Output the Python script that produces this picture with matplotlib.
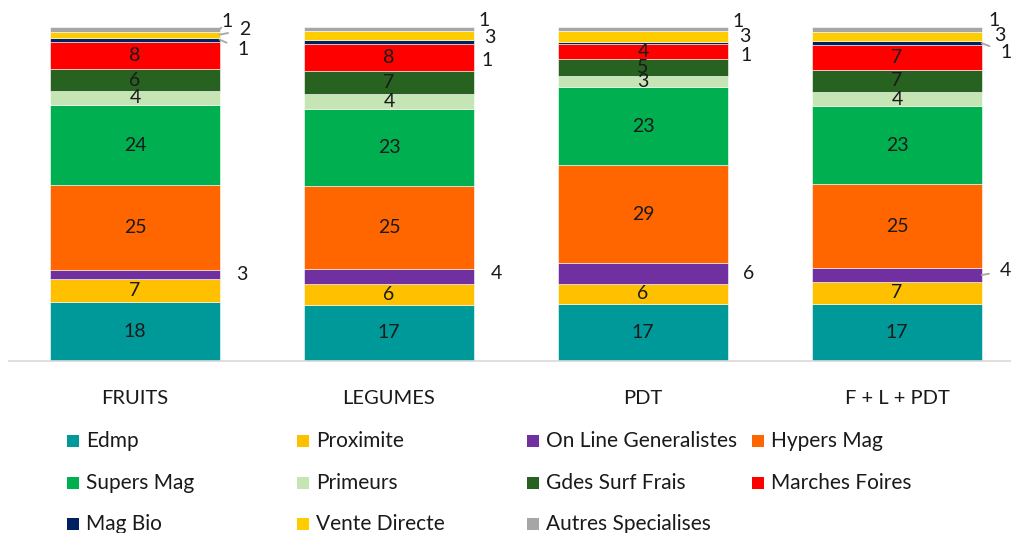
import matplotlib
matplotlib.use("Agg")
import matplotlib.pyplot as plt
from matplotlib.patches import Rectangle
import numpy as np

plt.rcParams['font.family'] = ['Lato', 'DejaVu Sans']

categories = ["FRUITS", "LEGUMES", "PDT", "F + L + PDT"]
series_names = ["Edmp", "Proximite", "On Line Generalistes", "Hypers Mag",
                "Supers Mag", "Primeurs", "Gdes Surf Frais", "Marches Foires",
                "Mag Bio", "Vente Directe", "Autres Specialises"]
colors = ["#009999", "#FFC000", "#7030A0", "#FF6600",
          "#00B050", "#C5E5B5", "#276221", "#FF0000",
          "#002060", "#FFCC00", "#A6A6A6"]

edmp        = [17.6, 16.8, 17.1, 17.2]
proximite   = [6.9, 6.2, 6.0, 6.6]
online      = [2.7, 4.4, 6.2, 3.9]
hypers      = [25.4, 25.1, 29.4, 25.3]
supers      = [24.1, 23.0, 23.3, 23.2]
primeurs    = [4.2, 4.4, 3.4, 4.3]
gdes_surf   = [6.4, 7.0, 5.0, 6.7]
marches     = [8.3, 7.9, 4.4, 7.4]
mag_bio     = [1.2, 1.2, 0.6, 1.1]
vente       = [1.8, 2.9, 3.4, 2.9]
autres      = [1.4, 1.1, 1.2, 1.4]

data = [edmp, proximite, online, hypers, supers, primeurs, gdes_surf,
        marches, mag_bio, vente, autres]

W, H = 1011, 533
fig = plt.figure(figsize=(W / 100, H / 100), dpi=100)
ax = fig.add_axes([9 / W, 1 - 361 / H, 1 - 9 / W, (361 - 27) / H])

x = np.arange(len(categories))
bw = 0.667
bottom = np.zeros(len(categories))
mids = []
for vals, c, name in zip(data, colors, series_names):
    v = np.array(vals)
    ax.bar(x, v, bw, bottom=bottom, color=c, edgecolor='white', linewidth=0.4, label=name)
    mids.append(bottom + v / 2)
    bottom = bottom + v

ax.set_xlim(-0.496, 3.449)
ax.set_ylim(0, 100)
ax.set_yticks([])
ax.set_xticks(x)
ax.set_xticklabels(categories, fontsize=14.5, color='#1a1a1a')
ax.tick_params(axis='x', length=0, pad=21)
for s in ['top', 'right', 'left']:
    ax.spines[s].set_visible(False)
ax.spines['bottom'].set_color('#d9d9d9')
ax.spines['bottom'].set_linewidth(1.2)

# inside labels
inside = [0, 1, 3, 4, 5, 6, 7]
for si in inside:
    for ci in range(len(categories)):
        ax.text(x[ci], mids[si][ci], f"{round(data[si][ci])}", ha='center', va='center',
                fontsize=14, color='#1a1a1a')

# outside labels: (series index, cat index, dx px, dy px, leader)
outside = [
    (2, 0, 22, 0, False), (2, 1, 23, 3, False), (2, 2, 21, 0, False), (2, 3, 24, 4, True),
    (10, 0, 7, 8, True), (9, 0, 25, 5, True), (8, 0, 23, -10, True),
    (10, 1, 10, 8, False), (9, 1, 16, -2, False), (8, 1, 13, -18, False),
    (10, 2, 10, 8, False), (9, 2, 17, 0, False), (8, 2, 18, -12, False),
    (10, 3, 12, 9, False), (9, 3, 18, 1, False), (8, 3, 24, -9, True),
]
for si, ci, dx, dy, leader in outside:
    xr = x[ci] + bw / 2
    yv = mids[si][ci]
    kw = {}
    if leader:
        kw['arrowprops'] = dict(arrowstyle='-', color='#a6a6a6', lw=1.3,
                                shrinkA=6, shrinkB=0)
    ax.annotate(f"{round(data[si][ci])}", xy=(xr, yv), xytext=(dx, dy),
                textcoords='offset pixels', ha='center', va='center',
                fontsize=14, color='#1a1a1a', annotation_clip=False, **kw)

# legend, drawn row-wise
col_x = [67, 297, 527, 752]
row_y = [441, 483, 524]
for i, (name, c) in enumerate(zip(series_names, colors)):
    r, col = divmod(i, 4)
    mx = col_x[col]
    my = row_y[r]
    fig.add_artist(Rectangle((mx / W, 1 - (my + 6) / H), 12 / W, 12 / H,
                             transform=fig.transFigure, color=c, lw=0))
    fig.text((mx + 19) / W, 1 - my / H, name, ha='left', va='center', fontsize=15,
             color='#1a1a1a')

fig.savefig("out.png", dpi=100)
